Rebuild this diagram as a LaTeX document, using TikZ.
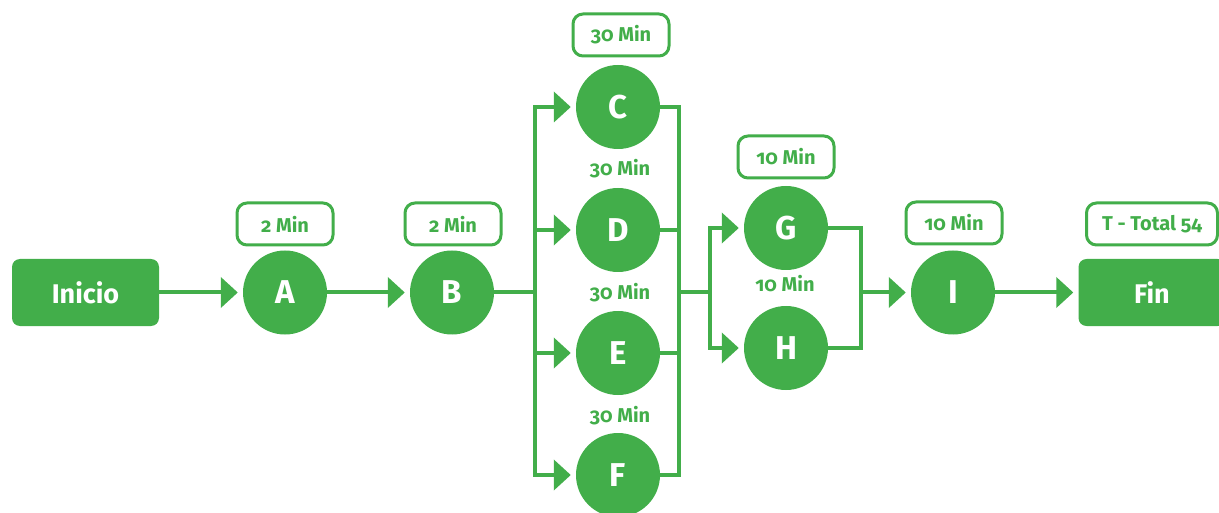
\documentclass[tikz,border=0pt]{standalone}
\usepackage{fontspec}
\setmainfont{Fira Sans}[Numbers=OldStyle]
\usetikzlibrary{arrows.meta}
\definecolor{pgreen}{RGB}{66,174,74}
\tikzset{
  flow/.style={draw=pgreen, line width=4pt, line join=miter},
  arr/.style={flow, -{Triangle[length=17pt,width=30pt]}, shorten >=5pt},
  task/.style={circle, fill=pgreen, minimum size=84pt, inner sep=0pt,
    text=white, font=\fontsize{33}{33}\selectfont\bfseries},
  endbox/.style={rectangle, rounded corners=8pt, fill=pgreen, text=white,
    minimum width=147pt, minimum height=67pt, inner sep=0pt,
    font=\fontsize{27}{27}\selectfont\bfseries},
  timebox/.style={rectangle, rounded corners=10pt, draw=pgreen, line width=3pt,
    fill=white, text=pgreen, minimum width=96pt, minimum height=42pt, inner sep=0pt,
    font=\fontsize{20}{20}\selectfont\bfseries},
  timetxt/.style={text=pgreen, inner sep=0pt, font=\fontsize{20}{20}\selectfont\bfseries}
}
\begin{document}
\begin{tikzpicture}[x=1pt, y=-1pt]
\useasboundingbox (0,0) rectangle (1219,513);

% start and end boxes
\node[endbox] (ini) at (85.5,292.5) {Inicio};
\node[endbox] (fin) at (1152,292.5) {Fin};

% activities
\node[task] (A) at (285,292.5) {A};
\node[task] (B) at (452,292.5) {B};
\node[task] (C) at (618,107) {C};
\node[task] (D) at (618,230) {D};
\node[task] (E) at (618,353) {E};
\node[task] (F) at (618,475) {F};
\node[task] (G) at (786,228) {G};
\node[task] (H) at (786,348) {H};
\node[task] (I) at (953,292.5) {I};

% durations
\node[timebox] (tA) at (285,224) {2 Min};
\node[timebox] (tB) at (453,224) {2 Min};
\node[timebox] (tC) at (621,35) {30 Min};
\node[timetxt] (tD) at (620,169) {30 Min};
\node[timetxt] (tE) at (620,293) {30 Min};
\node[timetxt] (tF) at (620,416) {30 Min};
\node[timebox] (tG) at (786,157) {10 Min};
\node[timetxt] (tH) at (785,284) {10 Min};
\node[timebox] (tI) at (954,223) {10 Min};
\node[timebox, minimum width=131pt] (tT) at (1152,224) {T - Total 54};

% junction points
\coordinate (bl) at (535,292.5);
\coordinate (br) at (679,292.5);
\coordinate (gl) at (710,292.5);
\coordinate (gr) at (861,292.5);

% connectors
\draw[arr] (ini) -- (A);
\draw[arr] (A) -- (B);
\draw[flow] (B) -- (bl);
\foreach \n in {C,D,E,F} {
  \draw[arr] (bl) |- (\n);
  \draw[flow] (\n) -| (br);
}
\draw[flow] (br) -- (gl);
\foreach \n in {G,H} {
  \draw[arr] (gl) |- (\n);
  \draw[flow] (\n) -| (gr);
}
\draw[arr] (gr) -- (I);
\draw[arr] (I) -- (fin);
\end{tikzpicture}
\end{document}
